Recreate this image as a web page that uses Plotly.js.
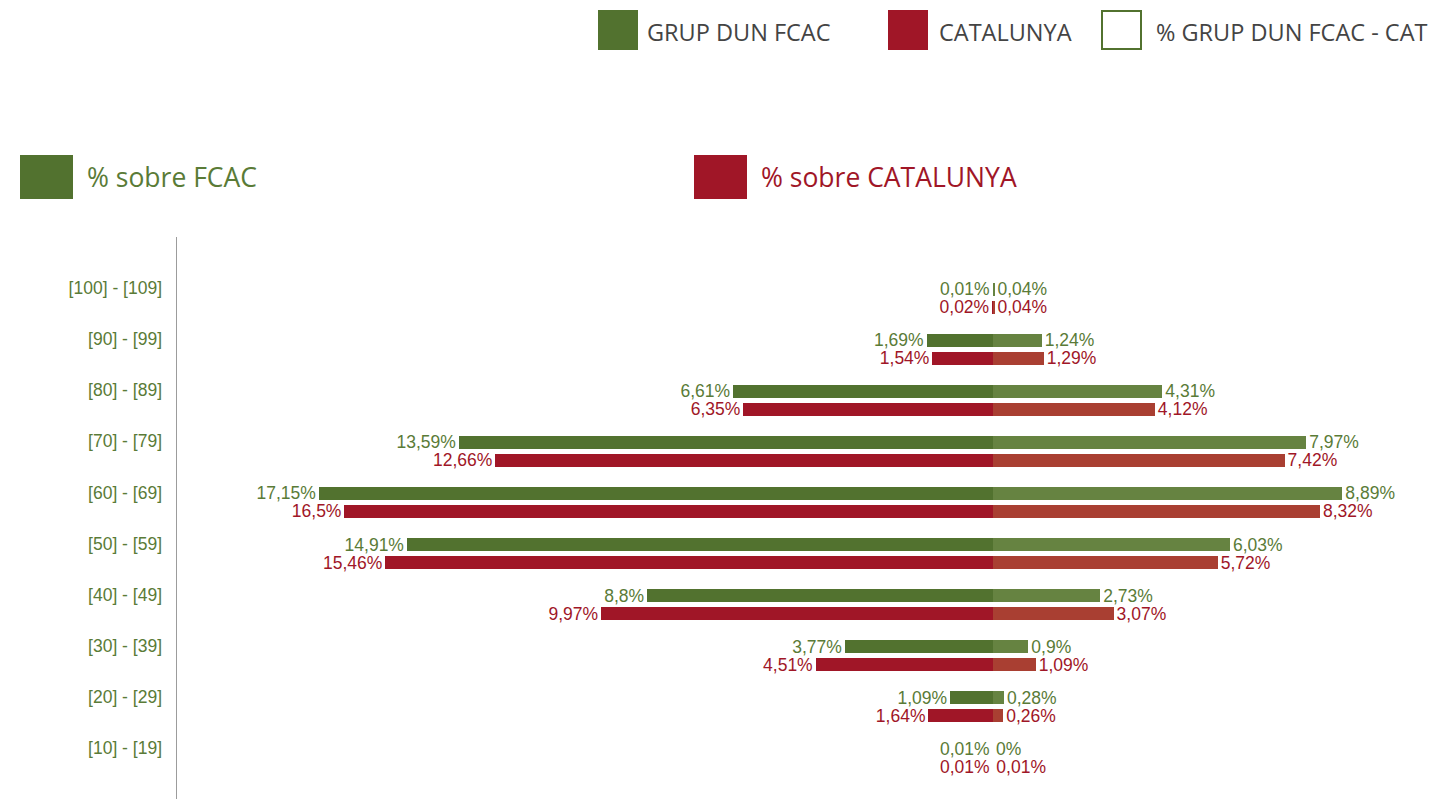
<!DOCTYPE html>
<html>
<head>
<meta charset="utf-8">
<script src="https://cdn.plot.ly/plotly-3.0.1.min.js"></script>
<style>
  html, body { margin: 0; padding: 0; background: #fff; }
  #chart { width: 1430px; height: 799px; }
</style>
</head>
<body>
<div id="chart"></div>
<script>
// Age bands, bottom to top
const categories = ['[10] - [19]', '[20] - [29]', '[30] - [39]', '[40] - [49]', '[50] - [59]',
                    '[60] - [69]', '[70] - [79]', '[80] - [89]', '[90] - [99]', '[100] - [109]'];
// % sobre FCAC (left side)
const fcacLeft = [0.01, 1.09, 3.77, 8.8, 14.91, 17.15, 13.59, 6.61, 1.69, 0.01];
const catLeft  = [0.01, 1.64, 4.51, 9.97, 15.46, 16.5, 12.66, 6.35, 1.54, 0.02];
// % sobre CATALUNYA (right side)
const fcacRight = [0, 0.28, 0.9, 2.73, 6.03, 8.89, 7.97, 4.31, 1.24, 0.04];
const catRight  = [0.01, 0.26, 1.09, 3.07, 5.72, 8.32, 7.42, 4.12, 1.29, 0.04];

const GREEN = '#52722f', GREEN_L = '#668341';
const RED = '#a01627', RED_L = '#a93f32';
const GREEN_T = '#5a7b37', RED_T = '#a01627';
const ARIAL = '"Liberation Sans", Arial, Helvetica, sans-serif';
const OPEN = '"Open Sans", sans-serif';

const fmt = v => String(v).replace('.', ',') + '%';
const idx = categories.map((c, i) => i);
const neg = arr => arr.map(v => -v);

const barW = 0.254;
const offG = -0.147, offR = -0.499;

function barTrace(xs, vals, color, textColor, offset) {
  return {
    type: 'bar', orientation: 'h',
    x: xs, y: idx,
    width: barW, offset: offset,
    marker: { color: color, line: { width: 0 } },
    text: vals.map(fmt),
    textposition: 'outside',
    constraintext: 'none',
    cliponaxis: false,
    textfont: { family: ARIAL, size: 17.5, color: textColor },
    hoverinfo: 'skip',
    showlegend: false
  };
}

const data = [
  barTrace(neg(fcacLeft), fcacLeft, GREEN, GREEN_T, offG),
  barTrace(neg(catLeft), catLeft, RED, RED_T, offR),
  barTrace(fcacRight, fcacRight, GREEN_L, GREEN_T, offG),
  barTrace(catRight, catRight, RED_L, RED_T, offR)
];

// Pixel -> paper helpers (plot area: x 177..1430, y 237..799)
const PL = 177, PR = 1430, PT = 237, PB = 799;
const px = x => (x - PL) / (PR - PL);
const py = y => (PB - y) / (PB - PT);

function box(x0, y0, x1, y1, fill, line) {
  return { type: 'rect', xref: 'paper', yref: 'paper',
           x0: px(x0), x1: px(x1), y0: py(y1), y1: py(y0),
           fillcolor: fill, line: line || { width: 0 } };
}
function label(x, y, text, color, size) {
  return { xref: 'paper', yref: 'paper', x: px(x), y: py(y), text: text,
           showarrow: false, xanchor: 'left', yanchor: 'middle',
           font: { family: OPEN, size: size, color: color } };
}

const layout = {
  width: 1430, height: 799,
  margin: { l: PL, r: 1430 - PR, t: PT, b: 799 - PB, pad: 0 },
  paper_bgcolor: '#fff', plot_bgcolor: '#fff',
  barmode: 'overlay',
  bargap: 0,
  xaxis: { range: [-20.76, 11.12], visible: false, fixedrange: true },
  yaxis: {
    range: [-1, 10],
    tickmode: 'array', tickvals: idx, ticktext: categories,
    ticks: 'outside', ticklen: 10, tickcolor: 'rgba(0,0,0,0)',
    tickfont: { family: ARIAL, size: 17.5, color: GREEN_T },
    showline: true, linecolor: '#9c9c9c', linewidth: 1.5,
    showgrid: false, zeroline: false, fixedrange: true
  },
  shapes: [
    box(598, 10, 638, 50, GREEN),
    box(888, 10, 928, 50, RED),
    box(1102, 11, 1141, 49, 'rgba(0,0,0,0)', { color: GREEN, width: 2 }),
    box(20, 155, 73, 199, GREEN),
    box(694, 155, 747, 199, RED)
  ],
  annotations: [
    label(645, 32, 'GRUP DUN FCAC', '#444444', 23.5),
    label(937, 32, 'CATALUNYA', '#444444', 23.5),
    label(1154, 32, '% GRUP DUN FCAC - CAT', '#444444', 23.5),
    label(85, 177, '% sobre FCAC', GREEN_T, 26.5),
    label(759, 177, '% sobre CATALUNYA', RED_T, 26.5)
  ]
};

Plotly.newPlot('chart', data, layout, { displayModeBar: false, staticPlot: true });
</script>
</body>
</html>
